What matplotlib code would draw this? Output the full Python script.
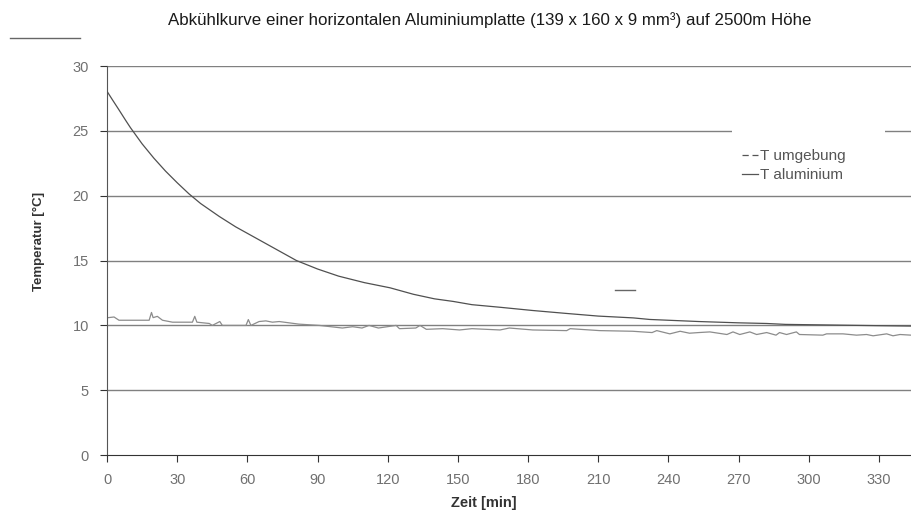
import matplotlib.pyplot as plt
from matplotlib.lines import Line2D
import numpy as np

plt.rcParams['font.family'] = ['Liberation Sans', 'DejaVu Sans']

t_alu = [0, 2.3, 5, 8, 10, 15, 20, 25, 30, 35, 40, 48, 55, 61, 70, 81, 90, 99, 110, 121,
         131, 140, 148, 156, 168, 182, 196, 210, 225, 232, 253, 270, 282, 290, 310, 330, 344]
T_alu = [28.05, 27.4, 26.65, 25.8, 25.25, 24.0, 22.9, 21.9, 21.0, 20.15, 19.4, 18.4, 17.6, 17.0,
         16.1, 15.0, 14.35, 13.8, 13.3, 12.9, 12.4, 12.05, 11.85, 11.6, 11.4, 11.15, 10.93,
         10.72, 10.58, 10.46, 10.3, 10.2, 10.15, 10.08, 10.03, 9.98, 9.95]

t_umg = [0, 3, 5.1, 18, 19, 19.7, 21.5, 23.7, 28, 36.5, 37.5, 38.4, 43.7, 45, 48.2, 49.3,
         59.4, 60.4, 61.5, 65, 67.9, 70.7, 73.6, 82, 90.8, 100.6, 105, 109, 112, 116, 123.6,
         125, 132, 133.8, 136.5, 143.5, 150.7, 156, 162, 168, 172, 182, 196.5, 198, 210.6,
         224.7, 233, 235, 240.6, 245, 249, 253, 257.7, 265, 267.6, 270.5, 274.8, 277.7, 282,
         286, 287.5, 290.5, 294.7, 296, 306, 307.6, 314.6, 320.4, 324.7, 327.5, 333.3, 336,
         339, 343.7]
T_umg = [10.59, 10.65, 10.4, 10.4, 11.0, 10.6, 10.7, 10.4, 10.25, 10.25, 10.7, 10.25, 10.15,
         10.0, 10.3, 10.0, 10.0, 10.45, 10.0, 10.3, 10.35, 10.25, 10.3, 10.1, 10.0, 9.8, 9.9,
         9.8, 10.0, 9.8, 10.0, 9.75, 9.8, 10.0, 9.7, 9.75, 9.65, 9.75, 9.7, 9.65, 9.8, 9.65,
         9.6, 9.75, 9.6, 9.55, 9.45, 9.6, 9.35, 9.55, 9.4, 9.45, 9.5, 9.3, 9.5, 9.3, 9.5, 9.3,
         9.45, 9.25, 9.45, 9.3, 9.5, 9.3, 9.25, 9.35, 9.35, 9.25, 9.3, 9.2, 9.35, 9.2, 9.3, 9.25]

x_ticks = np.arange(0, 331, 30)
y_ticks = np.arange(0, 31, 5)

fig = plt.figure(figsize=(9.11, 5.16), dpi=100)
ax = fig.add_axes([0.1175, 0.118, 0.8825, 0.754])

for y in y_ticks[1:]:
    ax.axhline(y, color='#808080', lw=1.0, zorder=1)

ax.plot(t_umg, T_umg, color='#8c8c8c', lw=0.9, zorder=2)
ax.plot(t_alu, T_alu, color='#505050', lw=0.9, zorder=3)

ax.set_xlim(0, 343.7)
ax.set_ylim(0, 30)
ax.set_xticks(x_ticks)
ax.set_yticks(y_ticks)
ax.tick_params(direction='out', length=5, width=0.8, colors='#333333',
               labelcolor='#707070', labelsize=10.5, pad=8)
for s in ['top', 'right']:
    ax.spines[s].set_visible(False)
ax.spines['left'].set_color('#555555')
ax.spines['bottom'].set_color('#333333')

ax.set_xlabel('Zeit [min]', fontsize=10.5, fontweight='bold', color='#333333')
ax.xaxis.set_label_coords(0.469, -0.105)
ax.set_ylabel('Temperatur [°C]', fontsize=9.5, fontweight='bold', color='#333333')
ax.yaxis.set_label_coords(-0.077, 0.548)
fig.text(0.538, 0.962, 'Abkühlkurve einer horizontalen Aluminiumplatte (139 x 160 x 9 mm³) auf 2500m Höhe',
         ha='center', va='center', fontsize=12.2, color='#1a1a1a')

# Legende mit weißem Hintergrund (verdeckt die 25er-Linie)
bg = plt.Rectangle((0.803, 0.64), 0.168, 0.108, transform=fig.transFigure,
                   facecolor='white', edgecolor='none', zorder=4, clip_on=False)
ax.add_patch(bg)
handles = [Line2D([], [], color='#555555', lw=0.9, dashes=(5, 3)),
           Line2D([], [], color='#555555', lw=0.9)]
leg = ax.legend(handles, ['T umgebung', 'T aluminium'], loc='upper left',
                bbox_to_anchor=(0.799, 0.738), bbox_transform=fig.transFigure,
                frameon=False, fontsize=11, handlelength=1.1, handletextpad=0.1,
                labelspacing=0.35, labelcolor='#555555')
leg.set_zorder(6)

# Reste des Legendenrahmens
for xs, ys in [((0.011, 0.088), (0.926, 0.926)), ((0.675, 0.697), (0.438, 0.438))]:
    fig.add_artist(Line2D(xs, ys, color='#666666', lw=1.0))

fig.savefig('out.png', dpi=100)
